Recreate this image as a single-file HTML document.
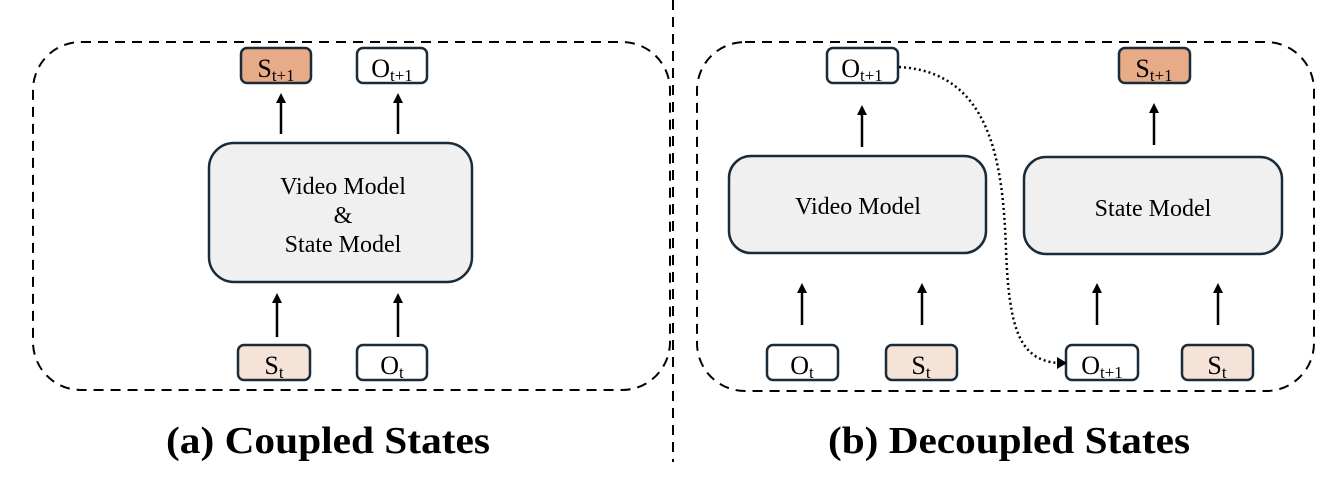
<!DOCTYPE html>
<html><head><meta charset="utf-8"><style>
html,body{margin:0;padding:0;background:#fff;}
svg{display:block;}
text{font-family:"Liberation Serif",serif;fill:#000;}
</style></head><body>
<svg width="1342" height="500" viewBox="0 0 1342 500" xmlns="http://www.w3.org/2000/svg">
<defs>
<marker id="ah" markerWidth="10" markerHeight="10" refX="5" refY="5" orient="auto" markerUnits="userSpaceOnUse">
<path d="M0,0 L10,5 L0,10 z" fill="#000"/></marker>
</defs>
<g fill="none" stroke="#000" stroke-width="2" stroke-dasharray="10,7">
<rect x="33" y="42" width="637" height="348" rx="48"/>
<rect x="697" y="42" width="617" height="349" rx="48"/>
<line x1="673" y1="0" x2="673" y2="462"/>
</g>
<g stroke="#1a2b3a" stroke-width="2.5">
<rect x="241" y="48" width="70" height="35" rx="6" fill="#e8ab88"/>
<rect x="357" y="48" width="70" height="35" rx="6" fill="#fff"/>
<rect x="209" y="143" width="263" height="139" rx="25" fill="#f0f0f0"/>
<rect x="238" y="345" width="72" height="35" rx="6" fill="#f5e3d8"/>
<rect x="357" y="345" width="70" height="35" rx="6" fill="#fff"/>
<rect x="827" y="48" width="71" height="35" rx="6" fill="#fff"/>
<rect x="1119" y="48" width="71" height="35" rx="6" fill="#e8ab88"/>
<rect x="729" y="156" width="257" height="97" rx="22" fill="#f0f0f0"/>
<rect x="1024" y="157" width="258" height="97" rx="22" fill="#f0f0f0"/>
<rect x="767" y="345" width="71" height="35" rx="6" fill="#fff"/>
<rect x="886" y="345" width="71" height="35" rx="6" fill="#f5e3d8"/>
<rect x="1066" y="345" width="72" height="35" rx="6" fill="#fff"/>
<rect x="1182" y="345" width="71" height="35" rx="6" fill="#f5e3d8"/>
</g>
<g stroke="#000" stroke-width="2.5" marker-end="url(#ah)">
<line x1="281" y1="134" x2="281" y2="98"/>
<line x1="398" y1="134" x2="398" y2="98"/>
<line x1="277" y1="337" x2="277" y2="298"/>
<line x1="398" y1="337" x2="398" y2="298"/>
<line x1="862" y1="147" x2="862" y2="110"/>
<line x1="1154" y1="145" x2="1154" y2="108"/>
<line x1="802" y1="325" x2="802" y2="288"/>
<line x1="922" y1="325" x2="922" y2="288"/>
<line x1="1097" y1="325" x2="1097" y2="288"/>
<line x1="1218" y1="325" x2="1218" y2="288"/>
</g>
<path d="M899,67 C990,72 1003,160 1006,250 C1009,330 1020,360 1058,363" fill="none" stroke="#000" stroke-width="2.5" stroke-dasharray="2,3"/>
<path d="M1057,357 L1067,363 L1057,369 z" fill="#000"/>
<g font-size="26" text-anchor="middle">
<text x="276" y="77">S<tspan font-size="17" dy="4">t+1</tspan></text>
<text x="392" y="77">O<tspan font-size="17" dy="4">t+1</tspan></text>
<text x="274" y="374">S<tspan font-size="17" dy="4">t</tspan></text>
<text x="392" y="374">O<tspan font-size="17" dy="4">t</tspan></text>
<text x="862" y="77">O<tspan font-size="17" dy="4">t+1</tspan></text>
<text x="1154" y="77">S<tspan font-size="17" dy="4">t+1</tspan></text>
<text x="802" y="374">O<tspan font-size="17" dy="4">t</tspan></text>
<text x="921" y="374">S<tspan font-size="17" dy="4">t</tspan></text>
<text x="1102" y="374">O<tspan font-size="17" dy="4">t+1</tspan></text>
<text x="1217" y="374">S<tspan font-size="17" dy="4">t</tspan></text>
</g>
<g font-size="24" text-anchor="middle">
<text x="343" y="194">Video Model</text>
<text x="343" y="223">&amp;</text>
<text x="343" y="252">State Model</text>
<text x="858" y="214">Video Model</text>
<text x="1153" y="216">State Model</text>
</g>
<g font-size="38" font-weight="bold">
<text x="166" y="453" textLength="324" lengthAdjust="spacingAndGlyphs">(a) Coupled States</text>
<text x="828" y="453" textLength="362" lengthAdjust="spacingAndGlyphs">(b) Decoupled States</text>
</g>
</svg>
</body></html>
